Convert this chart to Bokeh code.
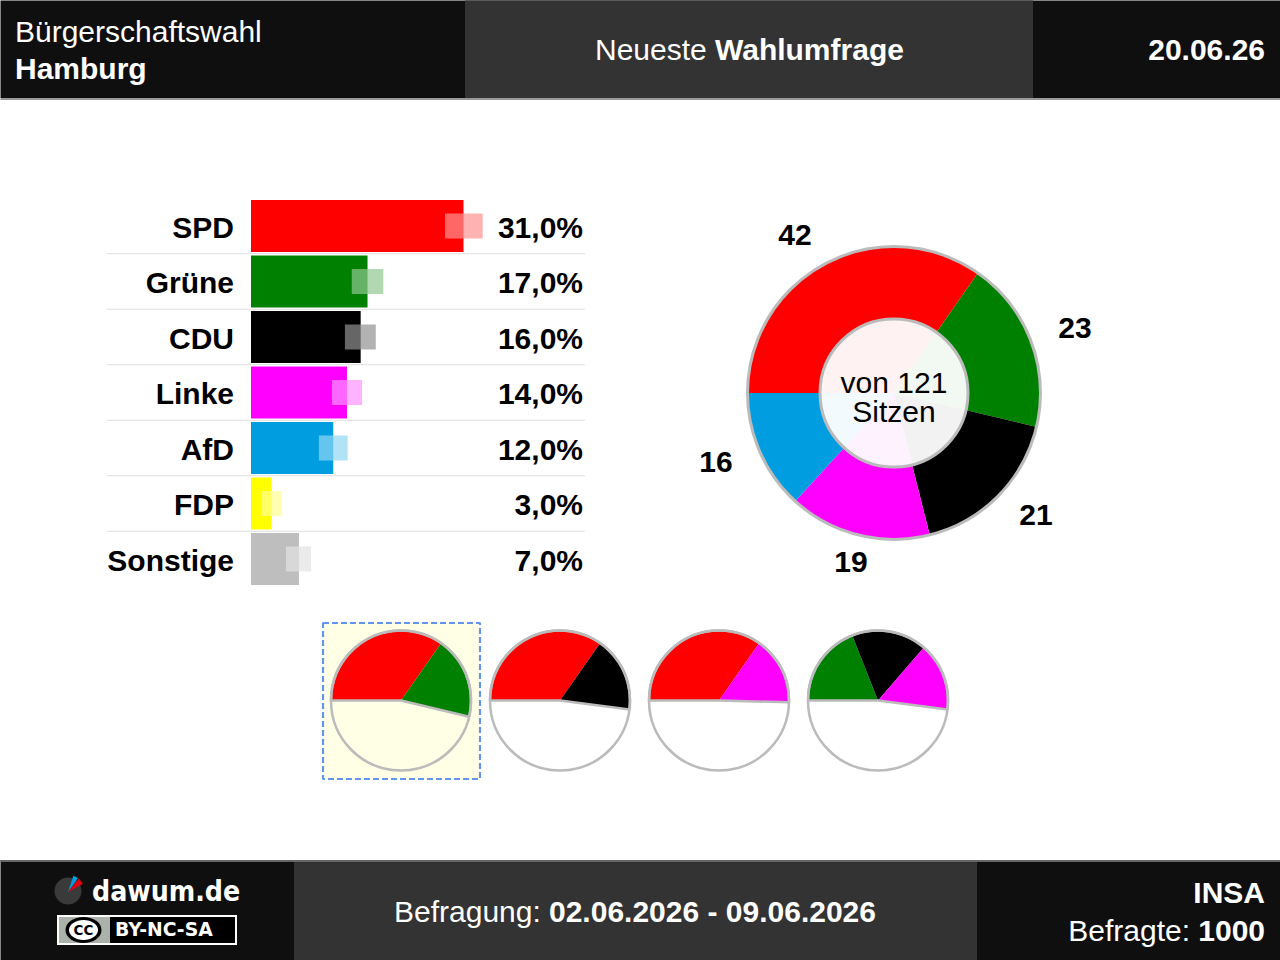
from math import pi
from bokeh.plotting import figure
from bokeh.models import Range1d
from bokeh.embed import file_html
from bokeh.resources import INLINE
from bokeh.core.properties import value

parties = ["SPD", "Grüne", "CDU", "Linke", "AfD", "FDP", "Sonstige"]
shares = [31.0, 17.0, 16.0, 14.0, 12.0, 3.0, 7.0]
share_labels = ["31,0%", "17,0%", "16,0%", "14,0%", "12,0%", "3,0%", "7,0%"]
err_low = [28.3, 14.7, 13.7, 11.8, 9.9, 1.5, 5.1]
err_high = [33.8, 19.3, 18.2, 16.2, 14.1, 4.5, 8.75]
colors = ["#ff0000", "#008000", "#000000", "#ff00ff", "#009ee0", "#ffff00", "#bebebe"]

seat_parties = ["SPD", "Grüne", "CDU", "Linke", "AfD"]
seats = [42, 23, 21, 19, 16]
seat_total = 121
coalitions = [["SPD", "Grüne"], ["SPD", "CDU"], ["SPD", "Linke"], ["Grüne", "CDU", "Linke"]]

FONT = value("Liberation Sans")
W, H = 1280, 960
OFFX, OFFY = 0.5, 0.5
PX_PER_PCT = 6.855
BAR0 = 251
ROW0, ROW_STEP = 226.0, 55.5

p = figure(width=W, height=H, x_range=Range1d(OFFX, OFFX + W), y_range=Range1d(OFFY + H, OFFY),
           x_axis_location=None, y_axis_location=None, toolbar_location=None,
           output_backend="svg", min_border=0, outline_line_color=None,
           background_fill_color="#ffffff", border_fill_color="#ffffff")
p.grid.visible = False
p.extra_x_ranges = {"pct": Range1d((OFFX - BAR0) / PX_PER_PCT, (OFFX + W - BAR0) / PX_PER_PCT)}
p.extra_y_ranges = {"row": Range1d((OFFY + H - ROW0) / ROW_STEP, (OFFY - ROW0) / ROW_STEP)}


def band(x0, x1, y0, y1, color):
    p.quad(left=[x0], right=[x1], top=[y0], bottom=[y1], fill_color=color, line_color=None)


def label(x, y, txt, size, bold=False, align="left", color="#ffffff", font=FONT):
    p.text(x=[x], y=[y - 0.5], text=[txt], text_font=font, text_font_size=f"{size}px",
           text_font_style="bold" if bold else "normal", text_align=align,
           text_baseline="middle", text_color=color)


def lighten(c, f=0.57):
    r, g, b = int(c[1:3], 16), int(c[3:5], 16), int(c[5:7], 16)
    return "#%02x%02x%02x" % tuple(round(v + (255 - v) * f) for v in (r, g, b))


# header
band(0, 1282, 0, 98, "#0f0f0f")
band(465, 1033, 0, 98, "#333333")
band(0, 1282, 98, 100, "#999999")
label(15, 32, "Bürgerschaftswahl", 30)
label(15, 69, "Hamburg", 30, True)
label(595, 50, "Neueste", 30)
label(715, 50, "Wahlumfrage", 30, True)
label(1265, 50, "20.06.26", 30, True, "right")

# footer
band(0, 1282, 860, 962, "#0f0f0f")
band(294, 977, 860, 962, "#333333")
band(0, 1282, 860, 862, "#666666")
label(394, 912, "Befragung:", 30)
label(549, 912, "02.06.2026 - 09.06.2026", 30, True)
label(1265, 893, "INSA", 30, True, "right")
label(1265, 931, "1000", 30, True, "right")
label(1190, 931, "Befragte:", 30, False, "right")

# logo
p.circle(x=[68], y=[891], radius=13.5, radius_units="screen", fill_color="#3a3a3a", line_color=None)
p.wedge(x=[68], y=[892], radius=17, radius_units="screen", start_angle=[0.95], end_angle=[1.25],
        fill_color="#009ee0", line_color=None)
p.wedge(x=[68], y=[892], radius=17, radius_units="screen", start_angle=[0.5], end_angle=[0.9],
        fill_color="#e3000f", line_color=None)
label(92, 892, "dawum.de", 28.2, True, font=value("DejaVu Sans Condensed"))
band(57, 237, 915, 945, "#ffffff")
band(59, 235, 917, 943, "#000000")
band(59, 110, 917, 943, "#aab2ab")
p.ellipse(x=[83.5], y=[930], width=36, height=26, width_units="screen", height_units="screen",
          fill_color="#000000", line_color=None)
p.ellipse(x=[83.5], y=[930], width=29, height=20, width_units="screen", height_units="screen",
          fill_color="#ffffff", line_color=None)
label(83.5, 930, "CC", 13.5, True, "center", "#000000", value("DejaVu Sans"))
label(115, 930, "BY-NC-SA", 18.8, True, font=value("DejaVu Sans"))

# bars
rows = list(range(len(parties)))
p.quad(left=[0] * 7, right=shares, top=[r - 26 / ROW_STEP for r in rows], bottom=[r + 26 / ROW_STEP for r in rows],
       fill_color=colors, line_color=None, x_range_name="pct", y_range_name="row")
p.quad(left=err_low, right=err_high, top=[r - 12.5 / ROW_STEP for r in rows], bottom=[r + 12.5 / ROW_STEP for r in rows],
       fill_color=[lighten(c) for c in colors], fill_alpha=0.7, line_color=None,
       x_range_name="pct", y_range_name="row")
p.segment(x0=[107] * 6, x1=[585] * 6, y0=[ROW0 + ROW_STEP * (r + 0.5) for r in rows[:-1]],
          y1=[ROW0 + ROW_STEP * (r + 0.5) for r in rows[:-1]], line_color="#dddddd", line_width=1.2)
for r, name, lab in zip(rows, parties, share_labels):
    label(234, ROW0 + ROW_STEP * r + 1.5, name, 30, True, "right", "#000000")
    label(583, ROW0 + ROW_STEP * r + 1.5, lab, 30, True, "right", "#000000")

# main donut
seat_color = {n: colors[parties.index(n)] for n in seat_parties}
seat_of = dict(zip(seat_parties, seats))
CX, CY = 894, 393
starts, ends = [], []
a = pi
for s in seats:
    starts.append(a - s / seat_total * 2 * pi)
    ends.append(a)
    a -= s / seat_total * 2 * pi
p.wedge(x=[CX] * 5, y=[CY] * 5, radius=146.5, radius_units="screen", start_angle=starts, end_angle=ends,
        fill_color=[seat_color[n] for n in seat_parties], line_color=None)
p.circle(x=[CX], y=[CY], radius=146.5, radius_units="screen", fill_color=None, line_color="#bbbbbb", line_width=3)
p.circle(x=[CX], y=[CY], radius=74, radius_units="screen", fill_color="#ffffff", fill_alpha=0.95,
         line_color="#bbbbbb", line_width=3)
label(CX, 383, "von 121", 30, False, "center", "#000000")
label(CX, 412, "Sitzen", 30, False, "center", "#000000")
seat_label_pos = [(795, 235), (1075, 328), (1036, 515), (851, 562), (716, 462)]
for (x, y), s in zip(seat_label_pos, seats):
    label(x, y, str(s), 30, True, "center", "#000000")

# coalition pies
p.quad(left=[323], right=[480], top=[623], bottom=[779], fill_color="#ffffe6",
       line_color="#6495ed", line_width=2.2, line_dash="6 3")
pie_x = [401, 560, 719, 878]
PY = 700.5
for px, coal in zip(pie_x, coalitions):
    a = pi
    for n in coal:
        step = seat_of[n] / seat_total * 2 * pi
        p.wedge(x=[px], y=[PY], radius=70, radius_units="screen", start_angle=[a - step], end_angle=[a],
                fill_color=seat_color[n], line_color=None)
        a -= step
    p.wedge(x=[px], y=[PY], radius=70, radius_units="screen", start_angle=[pi - 2 * pi], end_angle=[a],
            fill_color=None, line_color="#bbbbbb", line_width=2.5, direction="clock")
    p.circle(x=[px], y=[PY], radius=70, radius_units="screen", fill_color=None, line_color="#bbbbbb", line_width=2.5)

open("out.html", "w").write(file_html(p, INLINE))
